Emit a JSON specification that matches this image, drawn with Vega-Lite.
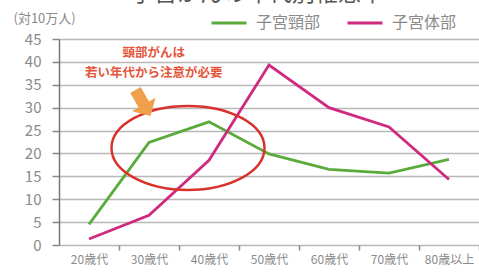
{
  "$schema": "https://vega.github.io/schema/vega-lite/v6.json",
  "width": 420,
  "height": 206,
  "autosize": "none",
  "padding": {"left": 59, "top": 39, "right": 0, "bottom": 29},
  "background": "white",
  "title": {"text": "子宮がんの年代別罹患率", "anchor": "start", "fontSize": 23, "color": "#555", "font": "Noto Sans CJK JP", "fontWeight": "normal", "dx": 118, "offset": 0, "dy": 25, "baseline": "bottom"},
  "config": {
    "view": {"stroke": null},
    "font": "Noto Sans CJK JP"
  },
  "datasets": {
    "rates": [
      {"idx": 0, "age": "20歳代", "series": "子宮頸部", "value": 4.5},
      {"idx": 1, "age": "30歳代", "series": "子宮頸部", "value": 22.4},
      {"idx": 2, "age": "40歳代", "series": "子宮頸部", "value": 26.9},
      {"idx": 3, "age": "50歳代", "series": "子宮頸部", "value": 19.9},
      {"idx": 4, "age": "60歳代", "series": "子宮頸部", "value": 16.5},
      {"idx": 5, "age": "70歳代", "series": "子宮頸部", "value": 15.7},
      {"idx": 6, "age": "80歳以上", "series": "子宮頸部", "value": 18.7},
      {"idx": 0, "age": "20歳代", "series": "子宮体部", "value": 1.3},
      {"idx": 1, "age": "30歳代", "series": "子宮体部", "value": 6.5},
      {"idx": 2, "age": "40歳代", "series": "子宮体部", "value": 18.5},
      {"idx": 3, "age": "50歳代", "series": "子宮体部", "value": 39.3},
      {"idx": 4, "age": "60歳代", "series": "子宮体部", "value": 30.0},
      {"idx": 5, "age": "70歳代", "series": "子宮体部", "value": 25.8},
      {"idx": 6, "age": "80歳以上", "series": "子宮体部", "value": 14.3}
    ],
    "ellipse": [{"x": 1.65, "y": 21.2}],
    "arrow": [{"x": 0.9, "y": 31.0}],
    "notes": [{"x": 1.08, "y": 42.0, "text": "頸部がんは"}, {"x": 1.08, "y": 37.6, "text": "若い年代から注意が必要"}]
  },
  "layer": [
    {
      "data": {"name": "rates"},
      "mark": {"type": "line", "strokeWidth": 2.8},
      "encoding": {
        "x": {"field": "idx", "type": "quantitative", "scale": {"domain": [-0.5, 6.5], "nice": false, "zero": false},
          "axis": {"orient": "bottom", "values": [0.5, 1.5, 2.5, 3.5, 4.5, 5.5, 6.5], "labelExpr": "['20歳代','30歳代','40歳代','50歳代','60歳代','70歳代','80歳以上'][floor(datum.value)]", "labelOffset": -30, "labelAlign": "center", "labelBound": false, "labelOverlap": false, "labelFlush": false, "ticks": true, "tickSize": 5, "tickColor": "#888", "tickWidth": 1.5, "domain": false, "grid": false, "title": null, "labelFontSize": 12, "labelColor": "#8a8a8a", "labelPadding": 4}},
        "y": {"field": "value", "type": "quantitative", "scale": {"domain": [0, 45], "nice": false},
          "axis": {"values": [0, 5, 10, 15, 20, 25, 30, 35, 40, 45], "tickCount": 10, "labelOverlap": false, "grid": true, "gridColor": "#b8b8b8", "gridWidth": 1.5, "tickColor": "#888", "tickSize": 7, "tickWidth": 1.5, "domainColor": "#777", "domainWidth": 1.5, "labelFontSize": 15, "labelColor": "#8a8a8a", "labelPadding": 11,
            "title": "(対10万人)", "titleAngle": 0, "titleAlign": "left", "titleBaseline": "middle", "titleX": -46, "titleY": -21, "titleFontSize": 13, "titleFontWeight": "normal", "titleColor": "#8a8a8a"}},
        "color": {"field": "series", "type": "nominal", "scale": {"domain": ["子宮頸部", "子宮体部"], "range": ["#5aab3c", "#cf2a80"]},
          "legend": {"orient": "none", "legendX": 151, "legendY": -35, "direction": "horizontal", "title": null, "symbolType": "stroke", "symbolSize": 1225, "symbolStrokeWidth": 3, "labelFontSize": 16, "labelColor": "#8a8a8a", "columnPadding": 20, "labelOffset": 8}}
      }
    },
    {
      "data": {"name": "ellipse"},
      "mark": {"type": "point", "shape": "M -1 0 A 1 0.55 0 1 0 1 0 A 1 0.55 0 1 0 -1 0 Z", "size": 23409, "filled": false, "stroke": "#d8322c", "strokeWidth": 2.5, "opacity": 1},
      "encoding": {"x": {"field": "x", "type": "quantitative"}, "y": {"field": "y", "type": "quantitative"}}
    },
    {
      "data": {"name": "arrow"},
      "mark": {"type": "point", "shape": "M -0.4 -1 L 0.4 -1 L 0.4 0.1 L 0.9 0.1 L 0 1 L -0.9 0.1 L -0.4 0.1 Z", "size": 900, "filled": true, "color": "#f0a04a", "opacity": 1, "angle": 330},
      "encoding": {"x": {"field": "x", "type": "quantitative"}, "y": {"field": "y", "type": "quantitative"}}
    },
    {
      "data": {"name": "notes"},
      "mark": {"type": "text", "fontSize": 12.5, "fontWeight": "bold", "color": "#e5553a", "align": "center", "baseline": "middle"},
      "encoding": {"x": {"field": "x", "type": "quantitative"}, "y": {"field": "y", "type": "quantitative"}, "text": {"field": "text"}}
    }
  ]
}
